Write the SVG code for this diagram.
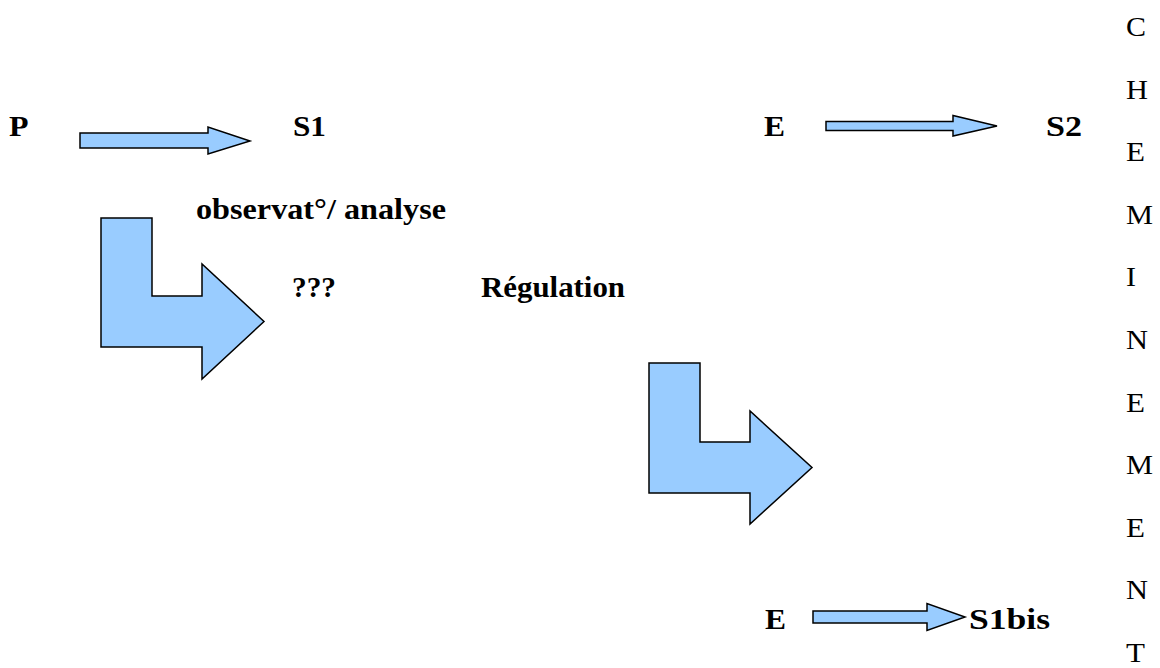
<svg xmlns="http://www.w3.org/2000/svg" width="1160" height="668" viewBox="0 0 1160 668">
<style>
.b{font-family:'Liberation Serif','Times New Roman',serif;font-weight:700;font-size:28.5px;fill:#000}
.r{font-family:'Liberation Serif','Times New Roman',serif;font-weight:400;font-size:27.5px;fill:#000}
.ar{fill:#99ccff;stroke:#000;stroke-width:1.5;stroke-linejoin:miter}
</style>
<rect width="1160" height="668" fill="#fff"/>
<g id="connectors">
<polygon class="ar" points="80,133 208,133 208,127 250,141 208,154 208,148 80,148"/>
<polygon class="ar" points="826,121.5 953,121.5 953,115.5 997,126 953,136 953,130.5 826,130.5"/>
<polygon class="ar" points="813,611 927,611 927,603.5 965,617 927,630.5 927,623 813,623"/>
<polygon class="ar" points="101,218 152,218 152,296 202,296 202,264 264,321.5 202,379 202,347 101,347"/>
<polygon class="ar" points="649,363 700,363 700,442 750,442 750,411 812,467.5 750,524 750,493 649,493"/>
</g>
<g id="node-P"><text class="b" x="9" y="136" textLength="19.5" lengthAdjust="spacingAndGlyphs">P</text></g>
<g id="node-S1"><text class="b" x="293" y="136" textLength="33" lengthAdjust="spacingAndGlyphs">S1</text></g>
<g id="node-observation"><text class="b" x="196" y="219" textLength="250" lengthAdjust="spacingAndGlyphs">observat°/ analyse</text></g>
<g id="node-qqq"><text class="b" x="292" y="297" textLength="44" lengthAdjust="spacingAndGlyphs">???</text></g>
<g id="node-regulation"><text class="b" x="481" y="297" textLength="144" lengthAdjust="spacingAndGlyphs">Régulation</text></g>
<g id="node-E1"><text class="b" x="764" y="136" textLength="21" lengthAdjust="spacingAndGlyphs">E</text></g>
<g id="node-S2"><text class="b" x="1046" y="136" textLength="36" lengthAdjust="spacingAndGlyphs">S2</text></g>
<g id="node-E2"><text class="b" x="765" y="629" textLength="21" lengthAdjust="spacingAndGlyphs">E</text></g>
<g id="node-S1bis"><text class="b" x="969" y="629" textLength="81" lengthAdjust="spacingAndGlyphs">S1bis</text></g>
<g id="node-cheminement">
<text class="r" x="1126" y="36" textLength="20" lengthAdjust="spacingAndGlyphs">C</text>
<text class="r" x="1126" y="99" textLength="22" lengthAdjust="spacingAndGlyphs">H</text>
<text class="r" x="1126" y="161" textLength="19" lengthAdjust="spacingAndGlyphs">E</text>
<text class="r" x="1126" y="224" textLength="27" lengthAdjust="spacingAndGlyphs">M</text>
<text class="r" x="1126" y="286" textLength="10" lengthAdjust="spacingAndGlyphs">I</text>
<text class="r" x="1126" y="349" textLength="22" lengthAdjust="spacingAndGlyphs">N</text>
<text class="r" x="1126" y="412" textLength="19" lengthAdjust="spacingAndGlyphs">E</text>
<text class="r" x="1126" y="474" textLength="27" lengthAdjust="spacingAndGlyphs">M</text>
<text class="r" x="1126" y="537" textLength="19" lengthAdjust="spacingAndGlyphs">E</text>
<text class="r" x="1126" y="599" textLength="22" lengthAdjust="spacingAndGlyphs">N</text>
<text class="r" x="1126" y="662" textLength="19" lengthAdjust="spacingAndGlyphs">T</text>
</g>
</svg>
